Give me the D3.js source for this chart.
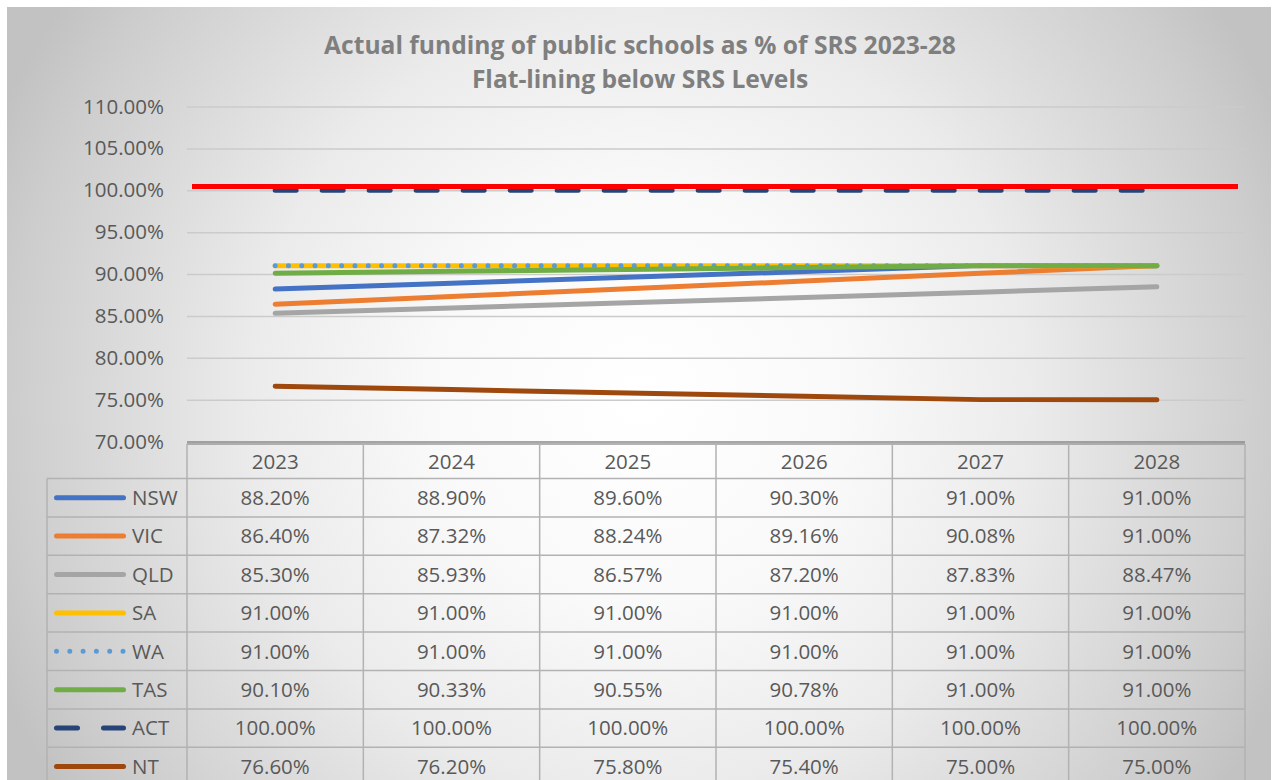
<!DOCTYPE html>
<html>
<head>
<meta charset="utf-8">
<script src="https://cdn.jsdelivr.net/npm/d3@7/dist/d3.min.js"></script>
<style>
  html, body { margin: 0; padding: 0; background: #ffffff; }
  svg { display: block; }
  text { font-family: "Open Sans", "Noto Sans", "Liberation Sans", sans-serif; }
</style>
</head>
<body>
<svg id="chart" width="1276" height="780"></svg>
<script>
// ---- data ----
const years = ["2023", "2024", "2025", "2026", "2027", "2028"];
const states = ["NSW", "VIC", "QLD", "SA", "WA", "TAS", "ACT", "NT"];
const nswValues = [88.20, 88.90, 89.60, 90.30, 91.00, 91.00];
const vicValues = [86.40, 87.32, 88.24, 89.16, 90.08, 91.00];
const qldValues = [85.30, 85.93, 86.57, 87.20, 87.83, 88.47];
const saValues  = [91.00, 91.00, 91.00, 91.00, 91.00, 91.00];
const waValues  = [91.00, 91.00, 91.00, 91.00, 91.00, 91.00];
const tasValues = [90.10, 90.33, 90.55, 90.78, 91.00, 91.00];
const actValues = [100.00, 100.00, 100.00, 100.00, 100.00, 100.00];
const ntValues  = [76.60, 76.20, 75.80, 75.40, 75.00, 75.00];
const yTicks = [70, 75, 80, 85, 90, 95, 100, 105, 110];
const srsLevel = 100.45;   // full SRS marker line
const titleLines = ["Actual funding of public schools as % of SRS 2023-28", "Flat-lining below SRS Levels"];

const seriesValues = [nswValues, vicValues, qldValues, saValues, waValues, tasValues, actValues, ntValues];

// ---- styles ----
const seriesStyle = {
  NSW: { color: "#4472C4", dash: null },
  VIC: { color: "#ED7D31", dash: null },
  QLD: { color: "#A5A5A5", dash: null },
  SA:  { color: "#FFC000", dash: null },
  WA:  { color: "#5B9BD5", dash: "0,13.3" },
  TAS: { color: "#70AD47", dash: null },
  ACT: { color: "#264478", dash: "21,26" },
  NT:  { color: "#9E480E", dash: null }
};

const series = states.map((name, i) => ({
  name,
  values: years.map((y, j) => ({ year: y, value: seriesValues[i][j] }))
}));

const svg = d3.select("#chart");
const W = 1276, H = 780;

// ---- background ----
const defs = svg.append("defs");
const grad = defs.append("radialGradient")
  .attr("id", "bg")
  .attr("gradientUnits", "userSpaceOnUse")
  .attr("cx", 640).attr("cy", 400).attr("r", 700)
  .attr("fx", 640).attr("fy", 400);
[[0, "#ffffff"], [0.3, "#f9f9f9"], [0.56, "#ebebeb"], [0.9, "#cdcdcd"], [1, "#c2c2c2"]]
  .forEach(([o, c]) => grad.append("stop").attr("offset", o).attr("stop-color", c));

svg.append("rect").attr("x", 7).attr("y", 7).attr("width", 1264).attr("height", H)
  .attr("fill", "url(#bg)");

// ---- scales ----
const plotLeft = 187, plotRight = 1245;
const x = d3.scalePoint().domain(years).range([plotLeft, plotRight]).padding(0.5);
const y = d3.scaleLinear().domain([70, 110]).range([441.5, 106.5]);
const step = x.step();

// ---- title ----
svg.append("g").selectAll("text").data(titleLines).join("text")
  .attr("x", 640)
  .attr("y", (d, i) => 54 + i * 34)
  .attr("text-anchor", "middle")
  .attr("font-size", 24.6)
  .attr("font-weight", "bold")
  .attr("fill", "#7f7f7f")
  .text(d => d);

// ---- gridlines & y labels ----
const yAxis = d3.axisLeft(y).tickValues(yTicks)
  .tickSize(-(plotRight - plotLeft))
  .tickPadding(23)
  .tickFormat(d => d3.format(".2f")(d) + "%");

const gy = svg.append("g").attr("transform", `translate(${plotLeft},0)`).call(yAxis);
gy.select(".domain").remove();
gy.selectAll(".tick line").attr("stroke", "#cbcbcb").attr("stroke-width", 1.5)
  .filter(d => d === 70).attr("stroke", "#8a8a8a");
gy.selectAll(".tick text")
  .attr("font-size", 20.5)
  .attr("fill", "#595959")
  .attr("font-family", "'Open Sans', 'Noto Sans', sans-serif");

// ---- series lines ----
const line = d3.line().x(d => x(d.year)).y(d => y(d.value));

svg.append("g").selectAll("path").data(series).join("path")
  .attr("d", d => line(d.values))
  .attr("fill", "none")
  .attr("stroke", d => seriesStyle[d.name].color)
  .attr("stroke-width", 5)
  .attr("stroke-linecap", "round")
  .attr("stroke-linejoin", "round")
  .attr("stroke-dasharray", d => seriesStyle[d.name].dash);

// ---- SRS marker ----
svg.append("line")
  .attr("x1", plotLeft + 5).attr("x2", plotRight - 7)
  .attr("y1", y(srsLevel)).attr("y2", y(srsLevel))
  .attr("stroke", "#FF0000").attr("stroke-width", 5);

// ---- data table ----
const tableTop = 444, headerH = 34.5, rowH = 38.4;
const legendLeft = 47;
const rowTop = i => tableTop + headerH + i * rowH;
const tableBottom = rowTop(states.length);
const table = svg.append("g");
const borderColor = "#b2b2b2";

// horizontal rules
table.append("line").attr("x1", plotLeft).attr("x2", plotRight)
  .attr("y1", tableTop).attr("y2", tableTop)
  .attr("stroke", "#9a9a9a").attr("stroke-width", 1.5);
table.selectAll("line.hr").data(d3.range(states.length + 1)).join("line")
  .attr("class", "hr")
  .attr("x1", legendLeft).attr("x2", plotRight)
  .attr("y1", i => rowTop(i)).attr("y2", i => rowTop(i))
  .attr("stroke", borderColor).attr("stroke-width", 1.5);

// vertical rules
const colEdges = d3.range(years.length + 1).map(i => plotLeft + i * step);
table.selectAll("line.vr").data(colEdges).join("line")
  .attr("class", "vr")
  .attr("x1", d => d).attr("x2", d => d)
  .attr("y1", tableTop).attr("y2", tableBottom)
  .attr("stroke", borderColor).attr("stroke-width", 1.5);
table.append("line")
  .attr("x1", legendLeft).attr("x2", legendLeft)
  .attr("y1", rowTop(0)).attr("y2", tableBottom)
  .attr("stroke", borderColor).attr("stroke-width", 1.5);

// header
table.selectAll("text.hdr").data(years).join("text")
  .attr("class", "hdr")
  .attr("x", d => x(d))
  .attr("y", tableTop + headerH / 2)
  .attr("dy", "0.36em")
  .attr("text-anchor", "middle")
  .attr("font-size", 20.5)
  .attr("fill", "#595959")
  .text(d => d);

// rows
const rows = table.selectAll("g.row").data(series).join("g")
  .attr("class", "row")
  .attr("transform", (d, i) => `translate(0,${rowTop(i) + rowH / 2})`);

rows.append("line")
  .attr("x1", 56.5).attr("x2", 123.5)
  .attr("stroke", d => seriesStyle[d.name].color)
  .attr("stroke-width", 5)
  .attr("stroke-linecap", "round")
  .attr("stroke-dasharray", d => seriesStyle[d.name].dash);

rows.append("text")
  .attr("x", 132)
  .attr("dy", "0.36em")
  .attr("font-size", 20.5)
  .attr("fill", "#595959")
  .text(d => d.name);

rows.selectAll("text.val").data(d => d.values).join("text")
  .attr("class", "val")
  .attr("x", d => x(d.year))
  .attr("dy", "0.36em")
  .attr("text-anchor", "middle")
  .attr("font-size", 20.5)
  .attr("fill", "#595959")
  .text(d => d3.format(".2f")(d.value) + "%");
</script>
</body>
</html>
